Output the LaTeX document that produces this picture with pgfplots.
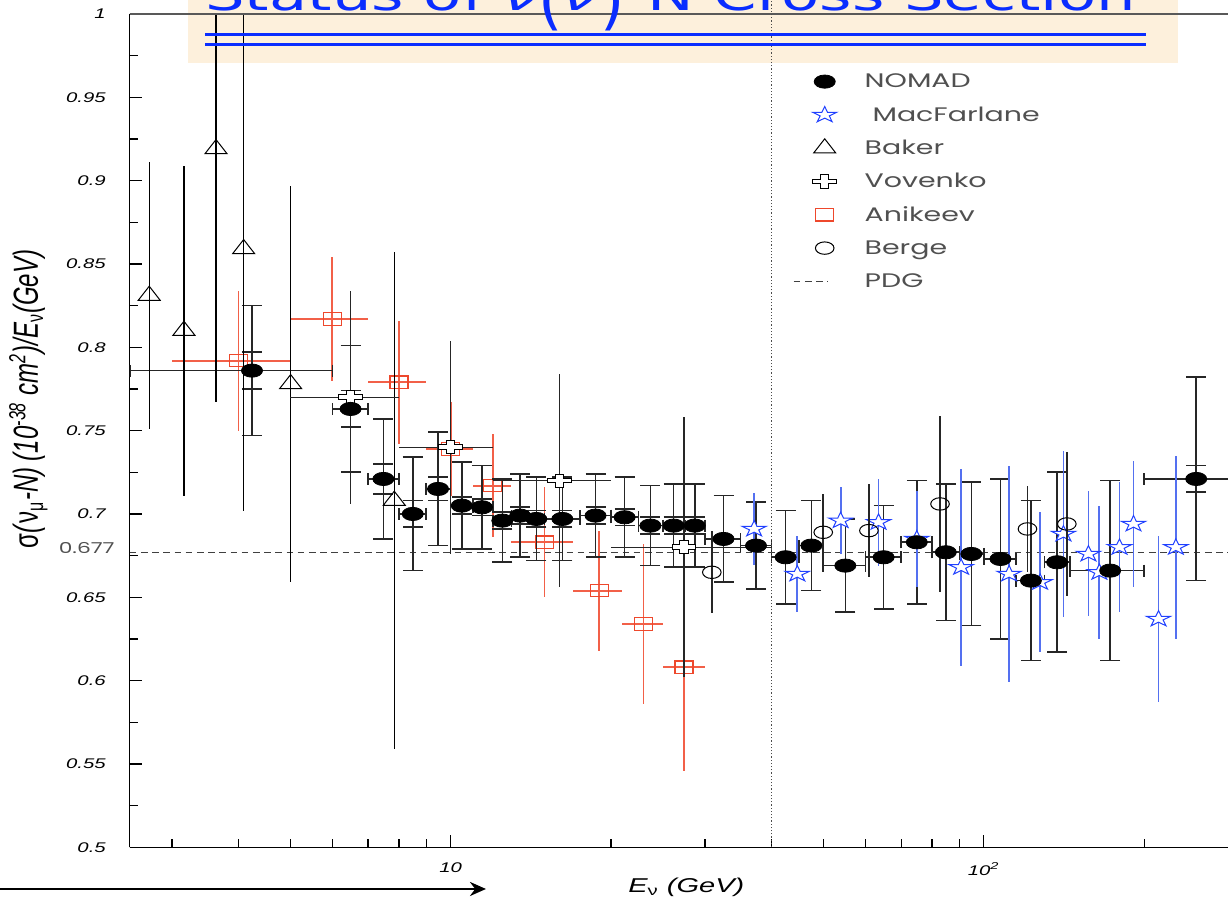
\documentclass[border=0pt]{standalone}
\usepackage{fontspec}
\setmainfont{Liberation Sans}[FakeStretch=1.45]
\newfontfamily\legfont{Poppins}[FakeStretch=1.45]
\newfontfamily\titlefont{DejaVu Sans}[FakeStretch=1.45]
\newfontfamily\plainsans{Liberation Sans}
\usepackage{graphicx}
\usepackage{pgfplots}
\usepackage{pgfplotstable}
\pgfplotsset{compat=1.18}
\usetikzlibrary{arrows.meta}

\definecolor{anired}{RGB}{238,72,44}
\definecolor{aniline}{RGB}{242,96,72}
\definecolor{macblue}{RGB}{32,64,255}
\definecolor{macline}{RGB}{84,112,240}
\definecolor{titleblue}{RGB}{10,45,255}
\definecolor{boxfill}{RGB}{253,240,220}
\definecolor{legtext}{RGB}{80,80,80}

% open Greek cross
\pgfdeclareplotmark{ocross}{%
  \pgfpathmoveto{\pgfqpoint{0.35\pgfplotmarksize}{\pgfplotmarksize}}%
  \pgfpathlineto{\pgfqpoint{0.35\pgfplotmarksize}{0.35\pgfplotmarksize}}%
  \pgfpathlineto{\pgfqpoint{\pgfplotmarksize}{0.35\pgfplotmarksize}}%
  \pgfpathlineto{\pgfqpoint{\pgfplotmarksize}{-0.35\pgfplotmarksize}}%
  \pgfpathlineto{\pgfqpoint{0.35\pgfplotmarksize}{-0.35\pgfplotmarksize}}%
  \pgfpathlineto{\pgfqpoint{0.35\pgfplotmarksize}{-\pgfplotmarksize}}%
  \pgfpathlineto{\pgfqpoint{-0.35\pgfplotmarksize}{-\pgfplotmarksize}}%
  \pgfpathlineto{\pgfqpoint{-0.35\pgfplotmarksize}{-0.35\pgfplotmarksize}}%
  \pgfpathlineto{\pgfqpoint{-\pgfplotmarksize}{-0.35\pgfplotmarksize}}%
  \pgfpathlineto{\pgfqpoint{-\pgfplotmarksize}{0.35\pgfplotmarksize}}%
  \pgfpathlineto{\pgfqpoint{-0.35\pgfplotmarksize}{0.35\pgfplotmarksize}}%
  \pgfpathlineto{\pgfqpoint{-0.35\pgfplotmarksize}{\pgfplotmarksize}}%
  \pgfpathclose
  \pgfusepathqfillstroke
}
% open five-pointed star
\pgfdeclareplotmark{ostar}{%
  \pgfpathmoveto{\pgfqpoint{0pt}{\pgfplotmarksize}}%
  \pgfpathlineto{\pgfqpoint{-0.2245\pgfplotmarksize}{0.309\pgfplotmarksize}}%
  \pgfpathlineto{\pgfqpoint{-0.9511\pgfplotmarksize}{0.309\pgfplotmarksize}}%
  \pgfpathlineto{\pgfqpoint{-0.3633\pgfplotmarksize}{-0.118\pgfplotmarksize}}%
  \pgfpathlineto{\pgfqpoint{-0.5878\pgfplotmarksize}{-0.809\pgfplotmarksize}}%
  \pgfpathlineto{\pgfqpoint{0pt}{-0.382\pgfplotmarksize}}%
  \pgfpathlineto{\pgfqpoint{0.5878\pgfplotmarksize}{-0.809\pgfplotmarksize}}%
  \pgfpathlineto{\pgfqpoint{0.3633\pgfplotmarksize}{-0.118\pgfplotmarksize}}%
  \pgfpathlineto{\pgfqpoint{0.9511\pgfplotmarksize}{0.309\pgfplotmarksize}}%
  \pgfpathlineto{\pgfqpoint{0.2245\pgfplotmarksize}{0.309\pgfplotmarksize}}%
  \pgfpathclose
  \pgfusepathqfillstroke
}

% NOMAD: energy, sigma/E, bin below/above, total error, stat error
\pgfplotstableread{
E     v      em    ep    dy     ds
4.24  0.786  1.74  1.76  0.039  0.011
6.49  0.763  0.49  0.51  0.038  0.011
7.48  0.721  0.48  0.52  0.036  0.009
8.49  0.700  0.49  0.51  0.034  0.008
9.47  0.715  0.47  0.53  0.034  0.007
10.49 0.705  0.49  0.51  0.026  0.005
11.45 0.704  0.45  0.55  0.025  0.005
12.5  0.696  0.50  0.50  0.025  0.005
13.5  0.699  0.50  0.50  0.025  0.005
14.48 0.697  0.48  0.52  0.025  0.005
16.2  0.697  1.20  1.30  0.025  0.005
18.7  0.699  1.20  1.30  0.025  0.005
21.2  0.698  1.20  1.30  0.024  0.005
23.7  0.693  1.20  1.30  0.024  0.005
26.2  0.693  1.20  1.30  0.025  0.005
28.7  0.693  1.20  1.30  0.025  0.005
32.5  0.685  2.50  2.50  0.026  0.0
37.4  0.681  2.40  2.60  0.026  0.0
42.5  0.674  2.50  2.50  0.028  0.0
47.5  0.681  2.50  2.50  0.027  0.0
55.0  0.669  5.00  5.00  0.028  0.0
64.9  0.674  4.90  5.10  0.031  0.0
74.9  0.683  4.90  5.10  0.037  0.0
84.9  0.677  4.90  5.10  0.041  0.0
94.8  0.676  4.80  5.20  0.043  0.0
107.5 0.673  7.50  7.50  0.048  0.0
122.6 0.660  7.60  7.40  0.048  0.0
137.3 0.671  7.30  7.70  0.054  0.0
172.7 0.666  27.7  27.3  0.054  0.0
250.4 0.721  50.4  49.6  0.061  0.008
}\nomad

\pgfplotstableread{
E     v      dy
37.1  0.691  0.0215
44.7  0.664  0.023
53.9  0.696  0.020
63.5  0.695  0.026
74.9  0.685  0.029
90.7  0.668  0.059
111.6 0.664  0.065
127.6 0.659  0.042
141.1 0.688  0.050
157.2 0.676  0.0375
164.8 0.665  0.040
179.8 0.680  0.039
191.0 0.694  0.038
212.8 0.637  0.050
229.3 0.680  0.055
}\macfarlane

\pgfplotstableread{
E     v      dy
2.72  0.831  0.080
3.16  0.810  0.099
3.63  0.919  0.152
4.09  0.859  0.157
5.01  0.778  0.119
7.84  0.708  0.149
}\baker

\pgfplotstableread{
E     v      em    ep    dy
6.49  0.770  1.49  1.51  0.064
10.0  0.740  2.0   2.0   0.064
16.0  0.720  4.0   4.0   0.064
27.4  0.680  7.4   12.6  0.078
}\vovenko

\pgfplotstableread{
E     v      em    ep    dy
4.0   0.792  1.0   1.0   0.042
6.0   0.817  1.0   1.0   0.037
8.0   0.779  1.0   1.0   0.037
10.0  0.739  1.0   1.0   0.028
12.0  0.717  1.0   1.0   0.031
15.0  0.683  2.0   2.0   0.033
19.0  0.654  2.0   2.0   0.036
23.0  0.634  2.0   2.0   0.048
27.4  0.608  2.4   2.6   0.062
}\anikeev

\pgfplotstableread{
E     v      dy
30.9  0.665  0.0245
50.0  0.689  0.023
60.9  0.690  0.028
82.8  0.706  0.053
120.8 0.691  0.026
143.2 0.694  0.043
}\berge

\begin{document}
\begin{tikzpicture}
% header band
\fill[boxfill] (94pt,420pt) rectangle (589pt,460pt);

\begin{axis}[
  scale only axis, width=554.17pt, height=416.67pt,
  at={(64.85pt,27.85pt)}, anchor=south west,
  xmode=log, xmin=2.5, xmax=300, ymin=0.5, ymax=1,
  axis x line*=bottom, axis y line*=left,
  axis line style={black, line width=0.7pt},
  clip mode=individual,
  tick align=inside,
  tick style={black, line width=0.6pt},
  major tick length=6pt, minor tick length=4pt,
  xtick={10,100}, xticklabels={10,10\textsuperscript{2}},
  minor xtick={3,4,5,6,7,8,9,20,30,40,50,60,70,80,90,200},
  ytick={0.5,0.55,0.6,0.65,0.7,0.75,0.8,0.85,0.9,0.95,1},
  yticklabels={0.5,0.55,0.6,0.65,0.7,0.75,0.8,0.85,0.9,0.95,1},
  minor ytick={0.525,0.575,0.625,0.675,0.725,0.775,0.825,0.875,0.925,0.975},
  xticklabel style={font=\fontsize{7}{8}\selectfont\itshape, inner sep=0pt, anchor=north, yshift=-7.5pt},
  yticklabel style={font=\fontsize{7}{8}\selectfont\itshape, inner sep=0pt, anchor=east, xshift=-11.8pt},
  legend style={draw=none, fill=none, at={(axis description cs:0.5985,0.9388)}, anchor=north west,
    inner sep=0pt, outer sep=0pt, row sep=0pt, column sep=14pt,
    nodes={inner sep=0pt, text height=11.5pt, text depth=5.15pt, text=legtext,
      font=\legfont\fontsize{9.8}{11}\selectfont}},
  legend cell align=left,
  error bars/error mark options={rotate=90},
]
% legend entries
\addlegendimage{only marks, mark=*, mark size=3.3pt, mark options={xshift=7pt, xscale=1.6, fill=black, draw=black}}
\addlegendentry{NOMAD}
\addlegendimage{only marks, mark=ostar, mark size=4.2pt, mark options={xshift=7pt, xscale=1.5, draw=macblue, fill=white, line width=0.5pt}}
\addlegendentry{\hspace{0.4em}MacFarlane}
\addlegendimage{only marks, mark=triangle, mark size=4.7pt, mark options={xshift=7pt, xscale=1.35, draw=black, fill=white, line width=0.5pt}}
\addlegendentry{Baker}
\addlegendimage{only marks, mark=ocross, mark size=3.3pt, mark options={xshift=7pt, xscale=1.8, draw=black, fill=white, line width=0.5pt}}
\addlegendentry{Vovenko}
\addlegendimage{only marks, mark=square, mark size=3.1pt, mark options={xshift=7pt, xscale=1.45, draw=anired, fill=white, line width=0.6pt}}
\addlegendentry{Anikeev}
\addlegendimage{only marks, mark=o, mark size=3.1pt, mark options={xshift=7pt, xscale=1.5, draw=black, fill=white, line width=0.5pt}}
\addlegendentry{Berge}
\addlegendimage{black!75, line width=0.6pt, dash pattern=on 3.3pt off 2.3pt}
\addlegendentry{PDG}

% PDG world average
\addplot[forget plot, black!75, line width=0.6pt, dash pattern=on 3.3pt off 2.3pt] coordinates {(2.5,0.677) (300,0.677)};

% Anikeev
\addplot[forget plot, only marks, mark=square, mark size=3.1pt,
  mark options={xscale=1.45, draw=anired, fill=white, line width=0.6pt},
  error bars/.cd, x dir=both, x explicit, y dir=both, y explicit, error mark=none,
  error bar style={aniline, line width=0.9pt}]
  table[x=E, y=v, x error minus=em, x error plus=ep, y error=dy] {\anikeev};

% NOMAD error bars (bin width, statistical, total)
\addplot[forget plot, only marks, mark=none,
  error bars/.cd, x dir=both, x explicit, error mark=-,
  error bar style={black!85, line width=0.8pt},
  error mark options={rotate=90, black!85, line width=0.8pt, mark size=3pt}]
  table[x=E, y=v, x error minus=em, x error plus=ep] {\nomad};
\addplot[forget plot, only marks, mark=none,
  error bars/.cd, y dir=both, y explicit, error mark=-,
  error bar style={black!85, line width=0.8pt},
  error mark options={rotate=90, black!85, line width=0.8pt, mark size=5pt}]
  table[x=E, y=v, y error=ds] {\nomad};
\addplot[forget plot, only marks, mark=none,
  error bars/.cd, y dir=both, y explicit, error mark=-,
  error bar style={black!85, line width=0.8pt},
  error mark options={rotate=90, black!85, line width=0.8pt, mark size=5pt}]
  table[x=E, y=v, y error=dy] {\nomad};

% MacFarlane
\addplot[forget plot, only marks, mark=ostar, mark size=4.2pt,
  mark options={xscale=1.5, draw=macblue, fill=white, line width=0.5pt},
  error bars/.cd, y dir=both, y explicit, error mark=none,
  error bar style={macline, line width=0.9pt}]
  table[x=E, y=v, y error=dy] {\macfarlane};

% Berge
\addplot[forget plot, only marks, mark=o, mark size=3.1pt,
  mark options={xscale=1.5, draw=black, fill=white, line width=0.5pt},
  error bars/.cd, y dir=both, y explicit, error mark=none,
  error bar style={black!85, line width=0.8pt}]
  table[x=E, y=v, y error=dy] {\berge};

% Baker
\addplot[forget plot, only marks, mark=triangle, mark size=4.7pt,
  mark options={xscale=1.35, draw=black, fill=white, line width=0.5pt},
  error bars/.cd, y dir=both, y explicit, error mark=none,
  error bar style={black, line width=0.7pt}]
  table[x=E, y=v, y error=dy] {\baker};

% Vovenko
\addplot[forget plot, only marks, mark=ocross, mark size=3.3pt,
  mark options={xscale=1.8, draw=black, fill=white, line width=0.5pt},
  error bars/.cd, x dir=both, x explicit, y dir=both, y explicit, error mark=none,
  error bar style={black!85, line width=0.7pt}]
  table[x=E, y=v, x error minus=em, x error plus=ep, y error=dy] {\vovenko};

% NOMAD points
\addplot[forget plot, only marks, mark=*, mark size=3.3pt,
  mark options={xscale=1.6, fill=black, draw=black}]
  table[x=E, y=v] {\nomad};

% reference lines and labels
\draw[black!65, line width=0.6pt] (rel axis cs:0,1) -- (rel axis cs:1,1);
\draw[black!70, line width=0.6pt, densely dotted] (axis cs:40,0.5) -- (axis cs:40,1.02);
\node[anchor=east, inner sep=0pt, xshift=-7.35pt, yshift=2pt, text=legtext,
  font=\legfont\fontsize{7.5}{8}\selectfont] at (axis cs:2.5,0.677) {0.677};
\end{axis}

% header lines and title
\draw[titleblue, line width=1.5pt] (102.5pt,434pt) -- (573pt,434pt);
\draw[titleblue, line width=1.5pt] (102.5pt,429.2pt) -- (573pt,429.2pt);
\node[anchor=base west, inner sep=0pt, text=titleblue, font=\titlefont\fontsize{21.5}{24}\selectfont]
  at (102.5pt,446pt) {Status of \textit{ν}\raisebox{-6pt}{\scalebox{1}[1.5]{(}}\textit{ν̄}\raisebox{-6pt}{\scalebox{1}[1.5]{)}}-N Cross Section};

% axis titles
\node[anchor=base west, inner sep=0pt, font=\fontsize{10}{11}\selectfont\itshape]
  at (314pt,5pt) {E\textsubscript{\textup{ν}} (GeV)};
\node[rotate=90, inner sep=0pt, font=\plainsans\fontsize{12}{13}\selectfont\itshape]
  at (14.2pt,252pt) {\scalebox{1}[1.45]{\textup{σ}(\textup{ν}\textsubscript{\textup{μ}}-N) (10\textsuperscript{-38} cm\textsuperscript{2})/E\textsubscript{\textup{ν}}(GeV)}};

% energy arrow
\draw[line width=1.3pt, -{Stealth[length=8pt, width=7pt]}] (-2pt,7pt) -- (243pt,7pt);

\pgfresetboundingbox
\path[use as bounding box] (0pt,0pt) rectangle (614pt,451.5pt);
\end{tikzpicture}
\end{document}
